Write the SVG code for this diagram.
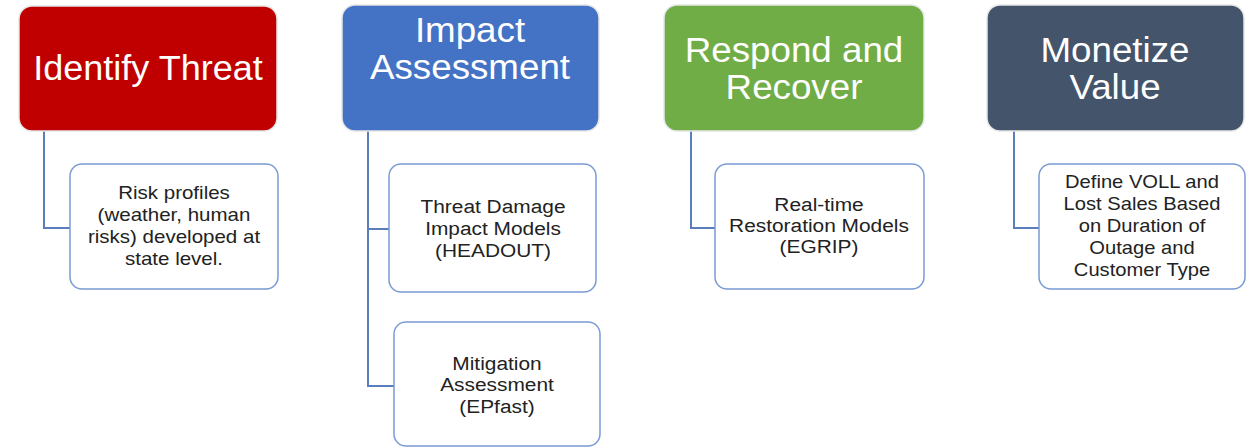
<svg xmlns="http://www.w3.org/2000/svg" width="1253" height="448" viewBox="0 0 1253 448">
<style>
.top{stroke:#e6e6e6;stroke-width:1.5}
.child{fill:#fff;stroke:#7a9bd3;stroke-width:1.5}
.ht{font-family:"Liberation Sans",Arial,sans-serif;font-size:35px;fill:#fff;text-anchor:middle}
.ct{font-family:"Liberation Sans",Arial,sans-serif;font-size:18px;fill:#222;text-anchor:middle}
.conn{fill:none;stroke:#5a7dbb;stroke-width:2}
</style>
<rect width="1253" height="448" fill="#fff"/>
<g id="connectors">
<path class="conn" d="M44,131 V228 H70"/>
<path class="conn" d="M368,131 V386 H394 M368,229 H389"/>
<path class="conn" d="M691,131 V228 H715"/>
<path class="conn" d="M1014,131 V228 H1039"/>
</g>
<g id="identify-threat">
<rect class="top" x="19" y="6" width="258" height="125" rx="13" fill="#c00000"/>
<g transform="translate(148,0) scale(1.03,1)"><text class="ht" x="0" y="80">Identify Threat</text></g>
</g>
<g id="impact-assessment">
<rect class="top" x="342" y="5" width="257" height="126" rx="13" fill="#4472c4"/>
<g transform="translate(470,0) scale(1.05,1)">
<text class="ht" x="0" y="42">Impact</text>
<text class="ht" x="0" y="79">Assessment</text>
</g>
</g>
<g id="respond-recover">
<rect class="top" x="664" y="5" width="260" height="126" rx="13" fill="#70ad47"/>
<g transform="translate(794,0) scale(1.05,1)">
<text class="ht" x="0" y="62">Respond and</text>
<text class="ht" x="0" y="99">Recover</text>
</g>
</g>
<g id="monetize-value">
<rect class="top" x="987" y="5" width="257" height="126" rx="13" fill="#44546a"/>
<g transform="translate(1115,0) scale(1.05,1)">
<text class="ht" x="0" y="62">Monetize</text>
<text class="ht" x="0" y="99">Value</text>
</g>
</g>
<g id="risk-profiles">
<rect class="child" x="70" y="164" width="208" height="125" rx="12"/>
<g transform="translate(174,0) scale(1.14,1)">
<text class="ct" x="0" y="199">Risk profiles</text>
<text class="ct" x="0" y="221">(weather, human</text>
<text class="ct" x="0" y="243">risks) developed at</text>
<text class="ct" x="0" y="265">state level.</text>
</g>
</g>
<g id="threat-damage">
<rect class="child" x="389" y="164" width="207" height="128" rx="12"/>
<g transform="translate(493,0) scale(1.16,1)">
<text class="ct" x="0" y="213">Threat Damage</text>
<text class="ct" x="0" y="235">Impact Models</text>
<text class="ct" x="0" y="257">(HEADOUT)</text>
</g>
</g>
<g id="mitigation">
<rect class="child" x="394" y="322" width="206" height="124" rx="12"/>
<g transform="translate(497,0) scale(1.16,1)">
<text class="ct" x="0" y="370">Mitigation</text>
<text class="ct" x="0" y="391">Assessment</text>
<text class="ct" x="0" y="413">(EPfast)</text>
</g>
</g>
<g id="restoration">
<rect class="child" x="715" y="164" width="209" height="125" rx="12"/>
<g transform="translate(819,0) scale(1.16,1)">
<text class="ct" x="0" y="211">Real-time</text>
<text class="ct" x="0" y="232">Restoration Models</text>
<text class="ct" x="0" y="253">(EGRIP)</text>
</g>
</g>
<g id="voll">
<rect class="child" x="1039" y="164" width="206" height="125" rx="12"/>
<g transform="translate(1142,0) scale(1.12,1)">
<text class="ct" x="0" y="188">Define VOLL and</text>
<text class="ct" x="0" y="210">Lost Sales Based</text>
<text class="ct" x="0" y="232">on Duration of</text>
<text class="ct" x="0" y="254">Outage and</text>
<text class="ct" x="0" y="276">Customer Type</text>
</g>
</g>
</svg>
